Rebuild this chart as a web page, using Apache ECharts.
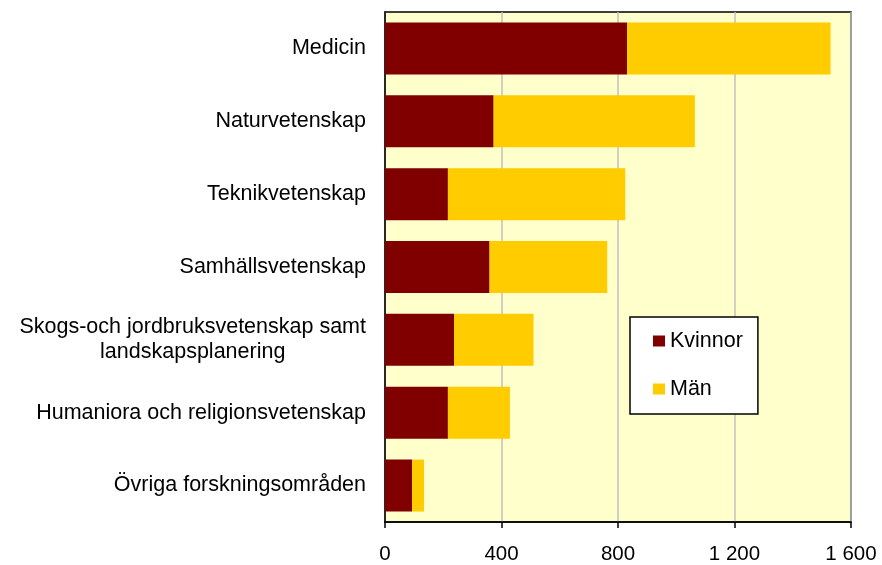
<!DOCTYPE html>
<html><head><meta charset="utf-8">
<script src="https://cdn.jsdelivr.net/npm/echarts@6/dist/echarts.min.js"></script>
<style>html,body{margin:0;padding:0;background:#fff}#c{width:882px;height:565px}</style>
</head><body><div id="c"></div>
<script>
const categories = ['Medicin','Naturvetenskap','Teknikvetenskap','Samhällsvetenskap','Skogs-och jordbruksvetenskap samt\nlandskapsplanering','Humaniora och religionsvetenskap','Övriga forskningsområden'];
const kvinnor = [831, 373, 216, 359, 237, 216, 93];
const man = [699, 691, 609, 404, 273, 213, 41];
const xTicks = [0, 400, 800, 1200, 1600];

const chart = echarts.init(document.getElementById('c'));
const font = 'Liberation Sans, Arial, sans-serif';
chart.setOption({
  animation: false,
  grid: {left: 385, right: 31, top: 12, bottom: 43, show: true, backgroundColor: '#FFFFCC', borderColor: '#000', borderWidth: 1.5},
  legend: {
    orient: 'vertical', left: 630, top: 317,
    backgroundColor: '#fff', borderColor: '#000', borderWidth: 1.5,
    padding: [13, 15, 14, 23], itemGap: 26, itemWidth: 12, itemHeight: 11,
    icon: 'rect',
    textStyle: {fontFamily: font, fontSize: 21.5, color: '#000', padding: [0, 0, 0, 0]},
    data: ['Kvinnor', 'Män']
  },
  xAxis: {
    type: 'value', min: xTicks[0], max: xTicks[xTicks.length-1], interval: 400,
    axisLine: {show: true, lineStyle: {color: '#000', width: 1.5}},
    axisTick: {show: true, length: 6, lineStyle: {color: '#000', width: 1.5}},
    splitLine: {show: true, lineStyle: {color: '#C0C0C0', width: 1.5}},
    axisLabel: {fontFamily: font, fontSize: 20.5, color: '#000', margin: 22,
      formatter: v => v >= 1000 ? String(v).replace(/(\d)(\d{3})$/, '$1 $2') : String(v)}
  },
  yAxis: {
    type: 'category', inverse: true, data: categories,
    axisLine: {show: true, lineStyle: {color: '#000', width: 1.5}},
    axisTick: {show: false},
    axisLabel: {fontFamily: font, fontSize: 21.5, color: '#000', margin: 19, lineHeight: 25,
      formatter: v => v.split('\n').map(s => '{c|' + s + '}').join('\n'),
      rich: {c: {align: 'center', fontFamily: font, fontSize: 21.5, color: '#000', lineHeight: 25}}}
  },
  series: [
    {name: 'Kvinnor', type: 'bar', stack: 't', data: kvinnor, barWidth: 52, itemStyle: {color: '#800000'}},
    {name: 'Män', type: 'bar', stack: 't', data: man, barWidth: 52, itemStyle: {color: '#FFCC00'}}
  ]
});
</script></body></html>
